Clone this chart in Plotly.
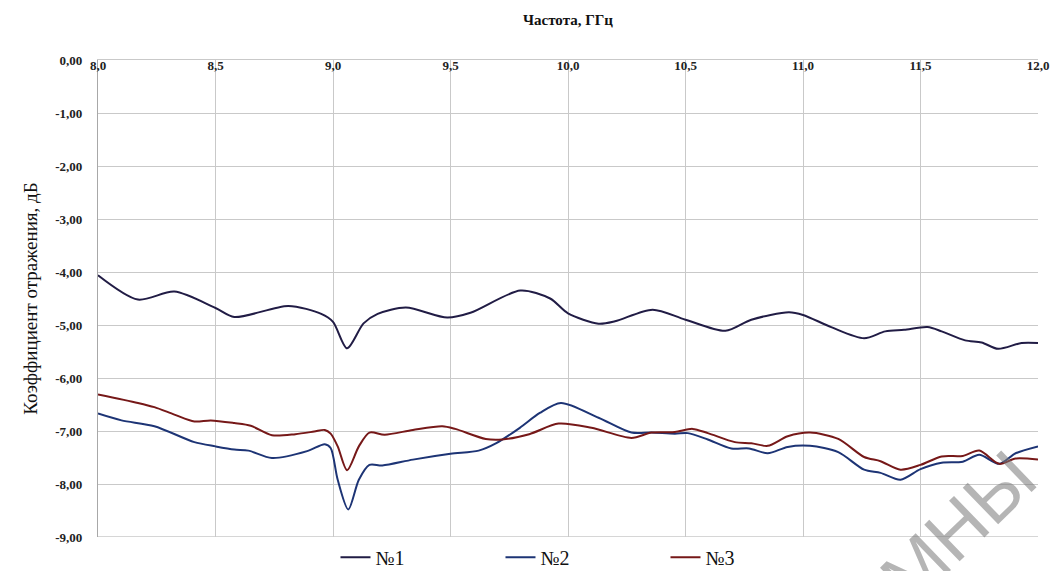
import plotly.graph_objects as go

# Frequency points (GHz) and reflection coefficient (dB) for each sample
freq_1 = [8.00, 8.17, 8.325, 8.50, 8.58, 8.81, 8.95, 9.00, 9.06, 9.13, 9.19, 9.31,
          9.486, 9.585, 9.797, 9.924, 10.00, 10.13, 10.20, 10.36, 10.50, 10.67,
          10.78, 10.94, 11.00, 11.12, 11.26, 11.35, 11.43, 11.53, 11.59, 11.69,
          11.76, 11.83, 11.93, 12.00]
s11_1 = [-4.06, -4.52, -4.37, -4.68, -4.85, -4.64, -4.79, -4.94, -5.44, -4.97,
         -4.79, -4.67, -4.86, -4.77, -4.35, -4.50, -4.78, -4.975, -4.93, -4.71,
         -4.90, -5.11, -4.90, -4.76, -4.81, -5.04, -5.25, -5.12, -5.09, -5.04,
         -5.12, -5.29, -5.33, -5.45, -5.34, -5.34]

freq_2 = [8.00, 8.10, 8.24, 8.41, 8.50, 8.58, 8.64, 8.74, 8.89, 8.965, 8.99, 9.02,
          9.065, 9.11, 9.155, 9.21, 9.34, 9.50, 9.62, 9.695, 9.795, 9.88, 9.97,
          10.13, 10.27, 10.355, 10.455, 10.51, 10.595, 10.695, 10.77, 10.85,
          10.935, 11.03, 11.15, 11.26, 11.33, 11.415, 11.50, 11.59, 11.68, 11.75,
          11.835, 11.905, 12.00]
s11_2 = [-6.67, -6.80, -6.91, -7.21, -7.29, -7.35, -7.37, -7.51, -7.38, -7.25,
         -7.32, -7.92, -8.48, -7.92, -7.64, -7.65, -7.54, -7.43, -7.37, -7.23,
         -6.94, -6.66, -6.47, -6.75, -7.03, -7.03, -7.05, -7.04, -7.16, -7.33,
         -7.33, -7.42, -7.30, -7.28, -7.40, -7.73, -7.79, -7.92, -7.72, -7.60,
         -7.58, -7.45, -7.62, -7.42, -7.29]

freq_3 = [8.00, 8.17, 8.24, 8.325, 8.41, 8.48, 8.58, 8.65, 8.74, 8.84, 8.92, 8.965,
          8.99, 9.02, 9.06, 9.11, 9.155, 9.22, 9.34, 9.465, 9.52, 9.65, 9.72, 9.835,
          9.96, 10.10, 10.27, 10.355, 10.455, 10.53, 10.595, 10.71, 10.78, 10.85,
          10.935, 11.03, 11.15, 11.26, 11.33, 11.415, 11.50, 11.59, 11.68, 11.75,
          11.835, 11.905, 12.00]
s11_3 = [-6.31, -6.47, -6.55, -6.69, -6.82, -6.80, -6.85, -6.90, -7.08, -7.06,
         -7.01, -6.98, -7.05, -7.29, -7.74, -7.29, -7.03, -7.07, -6.98, -6.91,
         -6.96, -7.15, -7.16, -7.06, -6.86, -6.94, -7.13, -7.03, -7.02, -6.96,
         -7.04, -7.21, -7.23, -7.28, -7.10, -7.03, -7.15, -7.49, -7.57, -7.73,
         -7.64, -7.48, -7.47, -7.37, -7.62, -7.52, -7.54]

series_names = ["№1", "№2", "№3"]
series_colors = ["#211c45", "#1d3475", "#761818"]

x_ticks = [8.0, 8.5, 9.0, 9.5, 10.0, 10.5, 11.0, 11.5, 12.0]
x_tick_text = ["8,0", "8,5", "9,0", "9,5", "10,0", "10,5", "11,0", "11,5", "12,0"]
y_ticks = [0, -1, -2, -3, -4, -5, -6, -7, -8, -9]
y_tick_text = ["0,00", "-1,00", "-2,00", "-3,00", "-4,00", "-5,00",
               "-6,00", "-7,00", "-8,00", "-9,00"]

SERIF = "Liberation Serif, Times New Roman, serif"
GRID = "#c9c9c9"

fig = go.Figure()
for xs, ys, name, color in zip([freq_1, freq_2, freq_3], [s11_1, s11_2, s11_3],
                               series_names, series_colors):
    fig.add_trace(go.Scatter(
        x=xs, y=ys, name=name, mode="lines",
        line=dict(color=color, width=2, shape="spline", smoothing=0.8),
    ))

fig.update_layout(
    width=1055, height=571,
    margin=dict(l=98, r=17, t=60, b=34, autoexpand=False),
    paper_bgcolor="white", plot_bgcolor="white",
    showlegend=True,
    legend=dict(
        orientation="h", x=0.318, xref="container", xanchor="left",
        y=0.024, yref="container", yanchor="middle",
        font=dict(family=SERIF, size=20, color="#111111"),
        itemwidth=30, entrywidth=120, bgcolor="rgba(0,0,0,0)",
    ),
    xaxis=dict(
        range=[8.0, 12.0], side="top",
        tickvals=x_ticks, ticktext=x_tick_text,
        ticklabelposition="inside", ticklabeloverflow="allow",
        tickfont=dict(family=SERIF, size=13, color="#222222", weight="bold"),
        showgrid=True, gridcolor=GRID, gridwidth=1.3,
        showline=True, linecolor=GRID, linewidth=1.3,
        zeroline=False, ticks="",
    ),
    yaxis=dict(
        range=[-9, 0],
        tickvals=y_ticks, ticktext=y_tick_text,
        tickfont=dict(family=SERIF, size=13, color="#222222", weight="bold"),
        ticklabelstandoff=12,
        showgrid=True, gridcolor=GRID, gridwidth=1.3,
        showline=True, linecolor="#a8a8a8", linewidth=1.3,
        zeroline=False, ticks="",
        title=dict(text="Коэффициент отражения, дБ",
                   font=dict(family=SERIF, size=19, color="#111111"),
                   standoff=12),
    ),
    annotations=[
        dict(text="Частота, ГГц", xref="paper", yref="paper",
             x=0.5, y=1.0, yanchor="middle", yshift=40, showarrow=False,
             font=dict(family=SERIF, size=15, color="#111111", weight="bold")),
        dict(text="МНЫ", xref="paper", yref="paper",
             x=0.915, y=0.02, xanchor="center", yanchor="middle",
             showarrow=False, textangle=-44,
             font=dict(family="Liberation Sans", size=74,
                       color="rgba(120,120,120,0.55)")),
    ],
)
# bottom frame line at -9
fig.add_hline(y=-9, line=dict(color=GRID, width=1.3))

fig.write_html("out.html")
